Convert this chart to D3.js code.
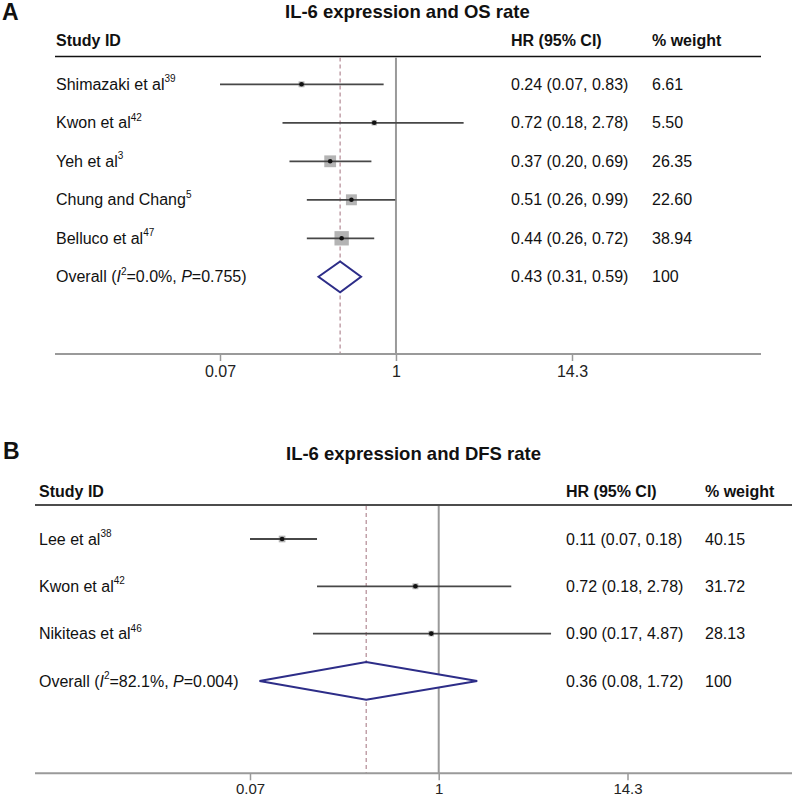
<!DOCTYPE html>
<html><head><meta charset="utf-8">
<script src="https://cdn.jsdelivr.net/npm/d3@7"></script>
<style>
body{margin:0;background:#fff;}
svg{font-family:Arial,"Liberation Sans",sans-serif;}
</style></head>
<body><svg id="c" width="793" height="798"></svg>
<script>
// ---- Panel A data ----
const studiesA = ["Shimazaki et al", "Kwon et al", "Yeh et al", "Chung and Chang", "Belluco et al"];
const refsA = ["39", "42", "3", "5", "47"];
const hrA = [0.24, 0.72, 0.37, 0.51, 0.44];
const lowA = [0.07, 0.18, 0.20, 0.26, 0.26];
const highA = [0.83, 2.78, 0.69, 0.99, 0.72];
const weightA = [6.61, 5.50, 26.35, 22.60, 38.94];
const overallA = [0.43, 0.31, 0.59];
const overallStatsA = ["0.0%", "0.755"];
const titleA = "IL-6 expression and OS rate";

// ---- Panel B data ----
const studiesB = ["Lee et al", "Kwon et al", "Nikiteas et al"];
const refsB = ["38", "42", "46"];
const hrB = [0.11, 0.72, 0.90];
const lowB = [0.07, 0.18, 0.17];
const highB = [0.18, 2.78, 4.87];
const weightB = [40.15, 31.72, 28.13];
const overallB = [0.36, 0.08, 1.72];
const overallStatsB = ["82.1%", "0.004"];
const titleB = "IL-6 expression and DFS rate";

const tickValues = [0.07, 1, 14.3];
const tickLabels = ["0.07", "1", "14.3"];

const svg = d3.select("#c");
const fmt = d3.format(".2f");

function panel(cfg) {
  const g = svg.append("g");
  const x = d3.scaleLog().domain([0.07, 14.3]).range([cfg.x007, cfg.x143]);
  const n = cfg.studies.length;
  const y = d3.scaleLinear().domain([0, 1]).range([cfg.row0, cfg.row0 + cfg.rowH]);

  // panel letter and title
  g.append("text").attr("x", cfg.letterX).attr("y", cfg.letterY).attr("font-size", 23)
    .attr("font-weight", "bold").attr("fill", "#111").text(cfg.letter);
  g.append("text").attr("x", cfg.titleX).attr("y", cfg.titleY).attr("font-size", 18.5)
    .attr("font-weight", "bold").attr("fill", "#111").attr("dy", "0.35em").text(cfg.title);

  // header
  const hdr = [["Study ID", cfg.colLabel], ["HR (95% CI)", cfg.colHR], ["% weight", cfg.colW]];
  hdr.forEach(h => g.append("text").attr("x", h[1]).attr("y", cfg.headerY).attr("dy", "0.35em")
    .attr("font-size", 16).attr("font-weight", "bold").attr("fill", "#111").text(h[0]));
  g.append("line").attr("x1", cfg.left).attr("x2", cfg.right)
    .attr("y1", cfg.hLineY).attr("y2", cfg.hLineY).attr("stroke", "#111").attr("stroke-width", 1.5);

  // null line and overall dashed line
  g.append("line").attr("x1", x(1)).attr("x2", x(1)).attr("y1", cfg.hLineY + 1).attr("y2", cfg.axisY)
    .attr("stroke", "#9a9a9a").attr("stroke-width", 2);
  g.append("line").attr("x1", x(cfg.overall[0])).attr("x2", x(cfg.overall[0]))
    .attr("y1", cfg.hLineY + 1).attr("y2", cfg.axisY)
    .attr("stroke", "#b8929c").attr("stroke-width", 1.3).attr("stroke-dasharray", "4,3");

  // axis
  g.append("line").attr("x1", cfg.left).attr("x2", cfg.right).attr("y1", cfg.axisY).attr("y2", cfg.axisY)
    .attr("stroke", "#9a9a9a").attr("stroke-width", 2);
  const ax = g.append("g").attr("transform", `translate(0,${cfg.axisY})`)
    .call(d3.axisBottom(x).tickValues(tickValues).tickFormat((d, i) => tickLabels[i]).tickSize(7).tickPadding(4));
  ax.select(".domain").remove();
  ax.selectAll(".tick line").attr("stroke", "#9a9a9a").attr("stroke-width", 1.5);
  ax.selectAll(".tick text").attr("fill", "#222")
    .attr("font-family", "'Liberation Sans Narrow','Arial Narrow',Arial,sans-serif")
    .attr("font-size", cfg.tickFont).attr("dy", null).attr("y", cfg.tickBase)
    .attr("dominant-baseline", "alphabetic");

  // study rows
  cfg.studies.forEach((s, i) => {
    const yy = y(i);
    const t = g.append("text").attr("x", cfg.colLabel).attr("y", yy).attr("dy", "0.35em")
      .attr("font-size", 16).attr("fill", "#111");
    t.append("tspan").text(s);
    t.append("tspan").attr("font-size", 10).attr("dy", "-0.75em").text(cfg.refs[i]);
    g.append("text").attr("x", cfg.colHR).attr("y", yy).attr("dy", "0.35em").attr("font-size", 16).attr("fill", "#111")
      .text(`${fmt(cfg.hr[i])} (${fmt(cfg.low[i])}, ${fmt(cfg.high[i])})`);
    g.append("text").attr("x", cfg.colW).attr("y", yy).attr("dy", "0.35em").attr("font-size", 16).attr("fill", "#111")
      .text(fmt(cfg.weight[i]));

    const side = cfg.boxK * Math.sqrt(cfg.weight[i]);
    g.append("rect").attr("x", x(cfg.hr[i]) - side / 2).attr("y", yy - side / 2)
      .attr("width", side).attr("height", side).attr("fill", "#b4b4b4");
    g.append("line").attr("x1", x(cfg.low[i])).attr("x2", x(cfg.high[i])).attr("y1", yy).attr("y2", yy)
      .attr("stroke", "#474747").attr("stroke-width", 1.8);
    g.append("circle").attr("cx", x(cfg.hr[i])).attr("cy", yy).attr("r", 2.3).attr("fill", "#111");
  });

  // overall row
  const yo = y(n);
  const t = g.append("text").attr("x", cfg.colLabel).attr("y", yo).attr("dy", "0.35em")
    .attr("font-size", 16).attr("fill", "#111");
  t.append("tspan").text("Overall (");
  t.append("tspan").attr("font-style", "italic").text("I");
  t.append("tspan").attr("font-size", 10).attr("dy", "-0.75em").text("2");
  t.append("tspan").attr("dy", "0.47em").text("=" + cfg.stats[0] + ", ");
  t.append("tspan").attr("font-style", "italic").text("P");
  t.append("tspan").text("=" + cfg.stats[1] + ")");
  g.append("text").attr("x", cfg.colHR).attr("y", yo).attr("dy", "0.35em").attr("font-size", 16).attr("fill", "#111")
    .text(`${fmt(cfg.overall[0])} (${fmt(cfg.overall[1])}, ${fmt(cfg.overall[2])})`);
  g.append("text").attr("x", cfg.colW).attr("y", yo).attr("dy", "0.35em").attr("font-size", 16).attr("fill", "#111")
    .text("100");
  const hh = cfg.rowH * 0.4;
  const pts = [[x(cfg.overall[1]), yo], [x(cfg.overall[0]), yo - hh], [x(cfg.overall[2]), yo], [x(cfg.overall[0]), yo + hh]];
  g.append("polygon").attr("points", pts.map(p => p.join(",")).join(" "))
    .attr("fill", "#fff").attr("stroke", "#2d2d88").attr("stroke-width", 2);
}

panel({
  letter: "A", letterX: 2, letterY: 20, title: titleA, titleX: 285, titleY: 12,
  studies: studiesA, refs: refsA, hr: hrA, low: lowA, high: highA, weight: weightA,
  overall: overallA, stats: overallStatsA,
  x007: 220, x143: 572, row0: 84.3, rowH: 38.5,
  colLabel: 56, colHR: 511, colW: 652, headerY: 40, hLineY: 56.5,
  left: 55, right: 761, axisY: 354, boxK: 2.3, tickFont: 16, tickBase: 23
});
panel({
  letter: "B", letterX: 3, letterY: 459, title: titleB, titleX: 286, titleY: 454,
  studies: studiesB, refs: refsB, hr: hrB, low: lowB, high: highB, weight: weightB,
  overall: overallB, stats: overallStatsB,
  x007: 250, x143: 627.5, row0: 539, rowH: 47.3,
  colLabel: 39, colHR: 566, colW: 705, headerY: 491, hLineY: 505,
  left: 35, right: 792, axisY: 773.3, boxK: 1.05, tickFont: 15, tickBase: 21
});
</script></body></html>
